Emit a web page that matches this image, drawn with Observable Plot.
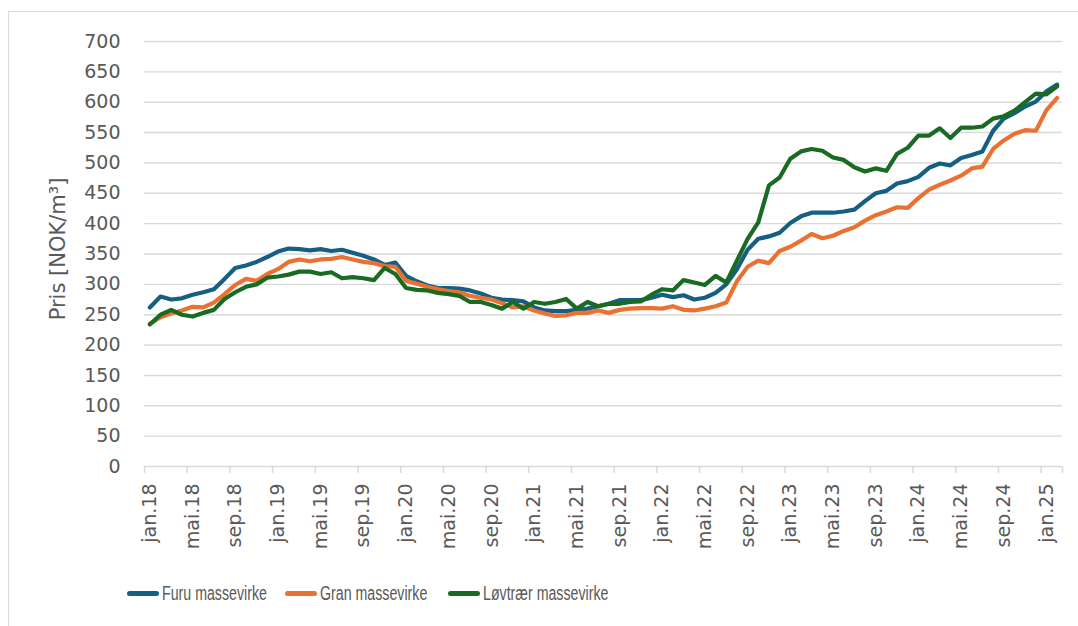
<!DOCTYPE html>
<html>
<head>
<meta charset="utf-8">
<script src="https://cdn.jsdelivr.net/npm/d3@7"></script>
<script src="https://cdn.jsdelivr.net/npm/@observablehq/plot@0.6"></script>
<style>
  html, body { margin: 0; padding: 0; background: #fff; }
  #wrap { position: relative; width: 1078px; height: 626px; overflow: hidden; }
  #frame { position: absolute; left: 8px; top: 11px; width: 1200px; height: 800px; border: 1px solid #d9d9d9; box-sizing: border-box; }
  #chart { position: absolute; left: 0; top: 0; }
  .leg { position: absolute; top: 582px; height: 22px; display: flex; align-items: center; }
  .sw { width: 32px; height: 5px; border-radius: 3px; margin-right: 3px; }
  .lt { font-family: "Liberation Sans", Arial, sans-serif; font-size: 20px; color: #595959; transform: scaleX(0.71); transform-origin: left center; white-space: nowrap; }
</style>
</head>
<body>
<div id="wrap">
  <div id="frame"></div>
  <div id="chart"></div>
  <div class="leg" style="left:127px"><div class="sw" style="background:#156082"></div><span class="lt">Furu massevirke</span></div>
  <div class="leg" style="left:285px"><div class="sw" style="background:#E97132"></div><span class="lt">Gran massevirke</span></div>
  <div class="leg" style="left:448px"><div class="sw" style="background:#196B24"></div><span class="lt">Løvtrær massevirke</span></div>
</div>
<script>
// Categories: monthly, jan.18 .. feb.25 (86 months)
const monthNames = ["jan","feb","mar","apr","mai","jun","jul","aug","sep","okt","nov","des"];
const startYear = 2018;
const nMonths = 86;

// Series values (NOK/m3)
const furu = [262,280,275,277,283,287,292,309,327,331,337,345,354,359,358,356,358,355,357,352,347,341,332,336,314,305,
  298,294,294,293,290,285,278,275,274,272,262,257,256,256,258,260,264,268,274,274,274,278,283,279,282,275,278,286,300,
  325,357,375,379,385,401,412,418,418,418,420,423,437,450,454,466,470,477,492,499,496,508,513,519,553,573,582,593,601,618,629];
const gran = [235,246,252,257,263,262,270,284,299,309,306,317,325,337,341,338,341,342,345,341,337,335,330,329,306,301,
  296,292,289,287,281,278,275,269,262,264,257,252,248,249,253,253,257,253,258,260,261,261,260,264,258,257,260,264,270,
  305,329,339,335,355,362,372,383,376,380,388,394,405,414,420,427,426,442,456,464,471,479,491,494,523,537,548,554,553,587,607];
const lovtraer = [234,250,258,250,247,253,258,276,287,296,300,311,313,316,321,321,317,320,310,312,310,307,327,317,294,291,
  290,286,284,281,271,271,266,260,271,260,271,268,271,276,260,271,264,268,268,271,272,283,292,290,307,303,299,314,303,
  339,375,402,463,476,507,519,523,520,509,505,493,486,491,487,515,525,545,545,557,541,558,558,560,573,577,586,600,614,613,626];

const seriesNames = ["Furu massevirke", "Gran massevirke", "Løvtrær massevirke"];
const seriesColors = ["#156082", "#E97132", "#196B24"];

const yTicks = [0,50,100,150,200,250,300,350,400,450,500,550,600,650,700];
const xTickLabels = ["jan.18","mai.18","sep.18","jan.19","mai.19","sep.19","jan.20","mai.20","sep.20","jan.21","mai.21","sep.21",
  "jan.22","mai.22","sep.22","jan.23","mai.23","sep.23","jan.24","mai.24","sep.24","jan.25"];
const yLabel = "Pris [NOK/m³]";

// Build table
const categories = d3.range(nMonths).map(i => monthNames[i % 12] + "." + String((startYear + Math.floor(i / 12)) % 100).padStart(2, "0"));
const allSeries = [furu, gran, lovtraer];
const rows = [];
allSeries.forEach((vals, s) => vals.forEach((v, i) => rows.push({series: seriesNames[s], i, cat: categories[i], value: v})));
const tickIdx = xTickLabels.map(l => categories.indexOf(l));

const font = "'DejaVu Sans', sans-serif";
const textColor = "#595959";

const chart = Plot.plot({
  width: 1078,
  height: 560,
  marginTop: 41,
  marginBottom: 94,
  marginLeft: 144,
  marginRight: 16,
  style: {fontFamily: font, background: "transparent"},
  x: {type: "linear", domain: [0, nMonths], axis: null},
  y: {domain: [0, 700], axis: null},
  color: {domain: seriesNames, range: seriesColors},
  marks: [
    Plot.gridY(yTicks.filter(d => d > 0), {stroke: "#d9d9d9", strokeOpacity: 1, strokeWidth: 1.4}),
    Plot.axisY(yTicks, {tickSize: 0, tickPadding: 24, fontSize: 19, fill: textColor, label: null}),
    Plot.text([yLabel], {frameAnchor: "left", textAnchor: "middle", dx: -86, dy: -5, rotate: -90, fontSize: 21, fill: textColor}),
    Plot.ruleY([0], {stroke: "#d9d9d9", strokeWidth: 1.5}),
    Plot.ruleX(tickIdx.concat([nMonths]), {x: d => d, y1: 0, y2: 0, insetBottom: -7, stroke: "#d9d9d9", strokeWidth: 1.5}),
    Plot.text(tickIdx, {x: d => d + 0.5, frameAnchor: "bottom", text: (d, k) => xTickLabels[k], rotate: -90, textAnchor: "end", lineAnchor: "middle", dy: 17, fontSize: 19, fill: textColor}),
    Plot.line(rows, {x: d => d.i + 0.5, y: "value", z: "series", stroke: "series", strokeWidth: 4.2, strokeLinejoin: "round", strokeLinecap: "round"})
  ]
});
document.getElementById("chart").appendChild(chart);
</script>
</body>
</html>
